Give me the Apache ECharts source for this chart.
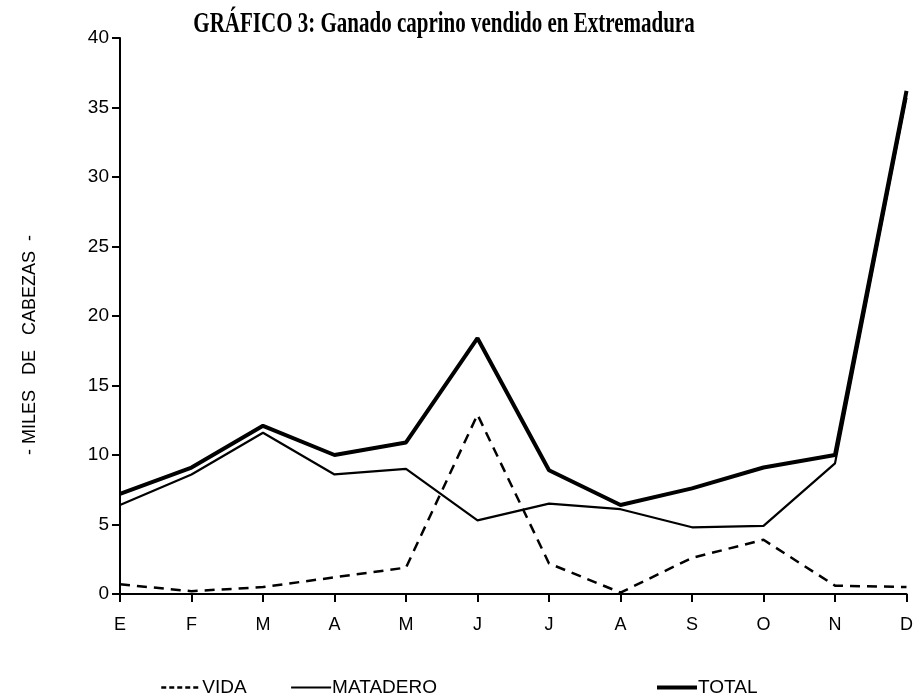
<!DOCTYPE html>
<html>
<head>
<meta charset="utf-8">
<script src="https://cdn.jsdelivr.net/npm/echarts@6/dist/echarts.min.js"></script>
<style>html,body{margin:0;padding:0;background:#fff}#c{width:916px;height:696px}</style>
</head>
<body>
<div id="c"></div>
<script>
const months = ['E','F','M','A','M','J','J','A','S','O','N','D'];
const vida = [0.7,0.2,0.5,1.2,1.9,12.9,2.2,0.1,2.6,3.9,0.6,0.5];
const matadero = [6.4,8.6,11.6,8.6,9.0,5.3,6.5,6.1,4.8,4.9,9.4,35.7];
const total = [7.2,9.1,12.1,10.0,10.9,18.4,8.9,6.4,7.6,9.1,10.0,36.2];
const seriesNames = ['VIDA','MATADERO','TOTAL'];
const titleText = 'GRÁFICO 3: Ganado caprino vendido en Extremadura';
const yName = '- MILES   DE   CABEZAS  -';

const chart = echarts.init(document.getElementById('c'), null, {renderer:'canvas'});
const sans = 'Liberation Sans, Arial, sans-serif';
const legendBase = {
  top: 673, itemWidth: 40, itemHeight: 14, itemGap: 0,
  itemStyle: {opacity: 0},
  textStyle: {fontFamily: sans, fontSize: 19, color: '#000', padding:[0,0,0,-4]},
  inactiveColor: '#000', selectedMode: false
};
chart.setOption({
  animation: false,
  backgroundColor: '#fff',
  graphic: [
    {type:'text', x: 444, y: 24, scaleX: 0.7, style:{text: titleText, font: 'bold 30px "Liberation Serif", serif', fill:'#000', align:'center', verticalAlign:'middle'}},
    {type:'text', x: 30, y: 345, rotation: Math.PI/2, style:{text: yName, font: '18px "Liberation Sans", Arial, sans-serif', fill:'#000', align:'center', verticalAlign:'middle'}}
  ],
  legend: [
    Object.assign({}, legendBase, {left: 155, data:[seriesNames[0]], lineStyle:{type:[5,3], width:2.5}}),
    Object.assign({}, legendBase, {left: 285, data:[seriesNames[1]], lineStyle:{width:2.2}}),
    Object.assign({}, legendBase, {left: 650, data:[seriesNames[2]], lineStyle:{width:4}})
  ],
  grid: {left: 120, right: 8, top: 38, bottom: 102},
  xAxis: {
    type: 'category', data: months, boundaryGap: false,
    axisLine: {lineStyle: {color: '#000', width: 2}},
    axisTick: {show: true, length: 8, lineStyle: {color:'#000', width: 2}, alignWithLabel: true},
    axisLabel: {color: '#000', fontFamily: sans, fontSize: 18, margin: 22, interval: 0},
    splitLine: {show: false}
  },
  yAxis: {
    type: 'value', min: 0, max: 40, interval: 5,
    axisLine: {show: true, lineStyle: {color:'#000', width: 2}},
    axisTick: {show: true, length: 8, lineStyle: {color:'#000', width: 2}},
    axisLabel: {color: '#000', fontFamily: sans, fontSize: 19, margin: 11},
    splitLine: {show: false}
  },
  series: [
    {name: seriesNames[0], type:'line', data: vida, symbol:'none', lineStyle:{color:'#000', width:2.5, type:[10,7]}, itemStyle:{color:'#000'}},
    {name: seriesNames[1], type:'line', data: matadero, symbol:'none', lineStyle:{color:'#000', width:2.2}, itemStyle:{color:'#000'}},
    {name: seriesNames[2], type:'line', data: total, symbol:'none', lineStyle:{color:'#000', width:4}, itemStyle:{color:'#000'}}
  ]
});
</script>
</body>
</html>
